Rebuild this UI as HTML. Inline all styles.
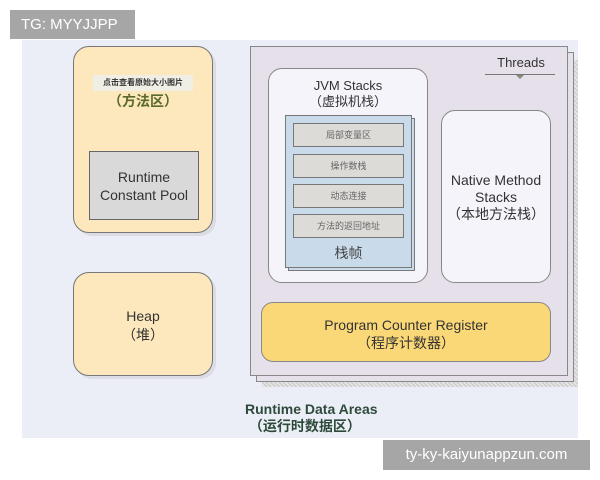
<!DOCTYPE html>
<html><head><meta charset="utf-8"><style>
*{margin:0;padding:0;box-sizing:border-box}
body{width:600px;height:480px;background:#fff;position:relative;overflow:hidden;font-family:"Liberation Sans","Noto Sans CJK SC",sans-serif}
div{position:absolute}
.c{text-align:center;color:#333}
</style></head><body>
<div style="left:22px;top:40px;width:556px;height:398px;background:#eceef7"></div>
<div style="left:262px;top:60px;width:316px;height:327px;background:repeating-linear-gradient(45deg,#c8c8c8 0 1px,#e4e4e4 1px 3px)"></div>
<div style="left:256px;top:52px;width:318px;height:330px;background:#e6e0ea;border:1px solid #888"></div>
<div style="left:250px;top:46px;width:318px;height:330px;background:#e6e0ea;border:1px solid #888"></div>
<div class="c" style="left:488px;top:55px;width:66px;font-size:13px">Threads</div>
<div style="left:485px;top:74px;width:70px;height:1px;background:#777"></div>
<div style="left:516px;top:75px;width:0;height:0;border-left:4px solid transparent;border-right:4px solid transparent;border-top:4px solid #887"></div>
<div style="left:76px;top:49px;width:140px;height:187px;background:#dcdce4;border-radius:16px"></div>
<div style="left:73px;top:46px;width:140px;height:187px;background:#fde7bd;border:1px solid #777;border-radius:16px"></div>
<div class="c" style="left:93px;top:75px;width:100px;height:16px;background:#f1eee6;font-size:8px;line-height:16px;font-weight:bold">点击查看原始大小图片</div>
<div class="c" style="left:73px;top:91px;width:140px;font-size:14px;color:#5a6a2a;font-weight:bold">（方法区）</div>
<div class="c" style="left:89px;top:151px;width:110px;height:69px;background:#d9d9d9;border:1px solid #666;font-size:14px;padding-top:16px;line-height:18px">Runtime<br>Constant Pool</div>
<div style="left:76px;top:275px;width:140px;height:104px;background:#dcdce4;border-radius:16px"></div>
<div class="c" style="left:73px;top:272px;width:140px;height:104px;background:#fde7bd;border:1px solid #777;border-radius:16px;font-size:14px;padding-top:34px;line-height:19px">Heap<br>（堆）</div>
<div class="c" style="left:268px;top:68px;width:160px;height:215px;background:#f4f4fa;border:1px solid #888;border-radius:14px;font-size:13px;padding-top:9px;line-height:16px">JVM Stacks<br>（虚拟机栈）</div>
<div style="left:288px;top:118px;width:127px;height:153px;background:#c9dbea;border:1px solid #777"></div>
<div style="left:285px;top:115px;width:127px;height:153px;background:#c9dbea;border:1px solid #777"></div>
<div class="c" style="left:293px;top:123px;width:111px;height:24px;background:#dddbd7;border:1px solid #777;font-size:9px;line-height:22px;color:#666">局部变量区</div>
<div class="c" style="left:293px;top:154px;width:111px;height:24px;background:#dddbd7;border:1px solid #777;font-size:9px;line-height:22px;color:#666">操作数栈</div>
<div class="c" style="left:293px;top:184px;width:111px;height:24px;background:#dddbd7;border:1px solid #777;font-size:9px;line-height:22px;color:#666">动态连接</div>
<div class="c" style="left:293px;top:214px;width:111px;height:24px;background:#dddbd7;border:1px solid #777;font-size:9px;line-height:22px;color:#666">方法的返回地址</div>
<div class="c" style="left:285px;top:243px;width:127px;font-size:14px;color:#444">栈帧</div>
<div class="c" style="left:441px;top:110px;width:110px;height:173px;background:#f4f4fa;border:1px solid #888;border-radius:14px;font-size:14px;padding-top:61px;line-height:17px">Native Method<br>Stacks<br>（本地方法栈）</div>
<div class="c" style="left:261px;top:302px;width:290px;height:60px;background:#fbd877;border:1px solid #888;border-radius:12px;font-size:14px;padding-top:13px;line-height:18px">Program Counter Register<br>（程序计数器）</div>
<div style="left:245px;top:401px;font-size:14px;font-weight:bold;color:#2e4a3a;line-height:17px">Runtime Data Areas<br>&nbsp;（运行时数据区）</div>
<div style="left:10px;top:10px;width:125px;height:29px;background:#a6a6a6;color:#fff;font-size:15px;line-height:29px;padding-left:11px">TG: MYYJJPP</div>
<div style="left:383px;top:440px;width:207px;height:30px;background:#a6a6a6;color:#fff;font-size:15px;line-height:30px;text-align:center">ty-ky-kaiyunappzun.com</div>
</body></html>
